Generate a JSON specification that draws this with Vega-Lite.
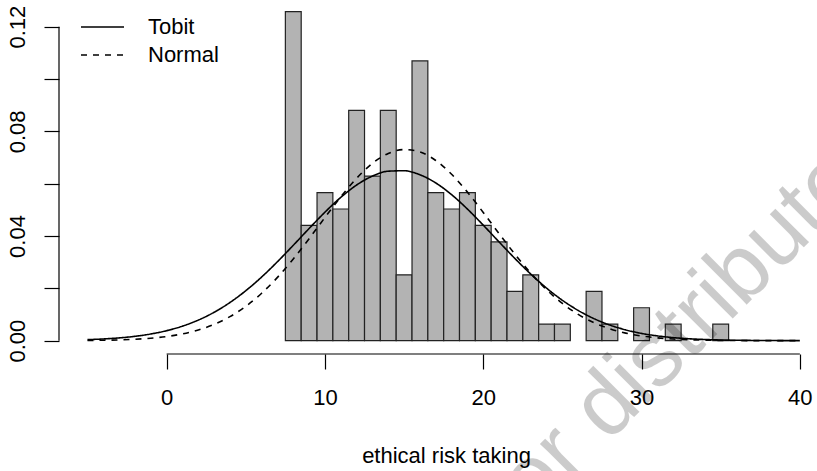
{
  "$schema": "https://vega.github.io/schema/vega-lite/v6.json",
  "width": 757,
  "height": 354,
  "autosize": {"type": "none"},
  "padding": {"left": 59, "top": 0, "right": 1, "bottom": 117},
  "background": "white",
  "config": {
    "view": {"stroke": null},
    "font": "Liberation Sans",
    "axis": {"labelFont": "Liberation Sans", "titleFont": "Liberation Sans", "labelColor": "black", "titleColor": "black", "tickColor": "black", "grid": false, "domain": false, "tickWidth": 1.2, "tickSize": 15}
  },
  "datasets": {
    "bins": [
      {"lo": 7.5, "hi": 8.5, "density": 0.12579},
      {"lo": 8.5, "hi": 9.5, "density": 0.04403},
      {"lo": 9.5, "hi": 10.5, "density": 0.05660},
      {"lo": 10.5, "hi": 11.5, "density": 0.05031},
      {"lo": 11.5, "hi": 12.5, "density": 0.08805},
      {"lo": 12.5, "hi": 13.5, "density": 0.06289},
      {"lo": 13.5, "hi": 14.5, "density": 0.08805},
      {"lo": 14.5, "hi": 15.5, "density": 0.02516},
      {"lo": 15.5, "hi": 16.5, "density": 0.10692},
      {"lo": 16.5, "hi": 17.5, "density": 0.05660},
      {"lo": 17.5, "hi": 18.5, "density": 0.05031},
      {"lo": 18.5, "hi": 19.5, "density": 0.05660},
      {"lo": 19.5, "hi": 20.5, "density": 0.04403},
      {"lo": 20.5, "hi": 21.5, "density": 0.03774},
      {"lo": 21.5, "hi": 22.5, "density": 0.01887},
      {"lo": 22.5, "hi": 23.5, "density": 0.02516},
      {"lo": 23.5, "hi": 24.5, "density": 0.00629},
      {"lo": 24.5, "hi": 25.5, "density": 0.00629},
      {"lo": 26.5, "hi": 27.5, "density": 0.01887},
      {"lo": 27.5, "hi": 28.5, "density": 0.00629},
      {"lo": 29.5, "hi": 30.5, "density": 0.01258},
      {"lo": 31.5, "hi": 32.5, "density": 0.00629},
      {"lo": 34.5, "hi": 35.5, "density": 0.00629}
    ],
    "curves": [
      {"model": "Tobit", "x": -5, "density": 0.000392},
      {"model": "Tobit", "x": -4, "density": 0.000651},
      {"model": "Tobit", "x": -3, "density": 0.001055},
      {"model": "Tobit", "x": -2, "density": 0.001663},
      {"model": "Tobit", "x": -1, "density": 0.002554},
      {"model": "Tobit", "x": 0, "density": 0.003814},
      {"model": "Tobit", "x": 1, "density": 0.005553},
      {"model": "Tobit", "x": 2, "density": 0.007868},
      {"model": "Tobit", "x": 3, "density": 0.010855},
      {"model": "Tobit", "x": 4, "density": 0.01459},
      {"model": "Tobit", "x": 5, "density": 0.01909},
      {"model": "Tobit", "x": 6, "density": 0.02432},
      {"model": "Tobit", "x": 7, "density": 0.03018},
      {"model": "Tobit", "x": 8, "density": 0.03645},
      {"model": "Tobit", "x": 9, "density": 0.04287},
      {"model": "Tobit", "x": 10, "density": 0.04911},
      {"model": "Tobit", "x": 11, "density": 0.05477},
      {"model": "Tobit", "x": 12, "density": 0.05948},
      {"model": "Tobit", "x": 13, "density": 0.06290},
      {"model": "Tobit", "x": 14, "density": 0.06477},
      {"model": "Tobit", "x": 15, "density": 0.06494},
      {"model": "Tobit", "x": 16, "density": 0.06341},
      {"model": "Tobit", "x": 17, "density": 0.06028},
      {"model": "Tobit", "x": 18, "density": 0.05580},
      {"model": "Tobit", "x": 19, "density": 0.05030},
      {"model": "Tobit", "x": 20, "density": 0.04415},
      {"model": "Tobit", "x": 21, "density": 0.03773},
      {"model": "Tobit", "x": 22, "density": 0.03141},
      {"model": "Tobit", "x": 23, "density": 0.02545},
      {"model": "Tobit", "x": 24, "density": 0.02008},
      {"model": "Tobit", "x": 25, "density": 0.01543},
      {"model": "Tobit", "x": 26, "density": 0.01155},
      {"model": "Tobit", "x": 27, "density": 0.00841},
      {"model": "Tobit", "x": 28, "density": 0.005966},
      {"model": "Tobit", "x": 29, "density": 0.004122},
      {"model": "Tobit", "x": 30, "density": 0.002773},
      {"model": "Tobit", "x": 31, "density": 0.001816},
      {"model": "Tobit", "x": 32, "density": 0.001158},
      {"model": "Tobit", "x": 33, "density": 0.000720},
      {"model": "Tobit", "x": 34, "density": 0.000435},
      {"model": "Tobit", "x": 35, "density": 0.000256},
      {"model": "Tobit", "x": 36, "density": 0.000147},
      {"model": "Tobit", "x": 37, "density": 0.000082},
      {"model": "Tobit", "x": 38, "density": 0.0000446},
      {"model": "Tobit", "x": 39, "density": 0.0000236},
      {"model": "Tobit", "x": 40, "density": 0.0000122},
      {"model": "Normal", "x": -5, "density": 0.0000821},
      {"model": "Normal", "x": -4, "density": 0.000159},
      {"model": "Normal", "x": -3, "density": 0.000297},
      {"model": "Normal", "x": -2, "density": 0.000536},
      {"model": "Normal", "x": -1, "density": 0.000936},
      {"model": "Normal", "x": 0, "density": 0.001580},
      {"model": "Normal", "x": 1, "density": 0.002579},
      {"model": "Normal", "x": 2, "density": 0.004072},
      {"model": "Normal", "x": 3, "density": 0.006218},
      {"model": "Normal", "x": 4, "density": 0.009185},
      {"model": "Normal", "x": 5, "density": 0.01312},
      {"model": "Normal", "x": 6, "density": 0.01811},
      {"model": "Normal", "x": 7, "density": 0.02418},
      {"model": "Normal", "x": 8, "density": 0.03122},
      {"model": "Normal", "x": 9, "density": 0.03899},
      {"model": "Normal", "x": 10, "density": 0.04708},
      {"model": "Normal", "x": 11, "density": 0.05496},
      {"model": "Normal", "x": 12, "density": 0.06206},
      {"model": "Normal", "x": 13, "density": 0.06777},
      {"model": "Normal", "x": 14, "density": 0.07155},
      {"model": "Normal", "x": 15, "density": 0.07305},
      {"model": "Normal", "x": 16, "density": 0.07213},
      {"model": "Normal", "x": 17, "density": 0.06886},
      {"model": "Normal", "x": 18, "density": 0.06358},
      {"model": "Normal", "x": 19, "density": 0.05677},
      {"model": "Normal", "x": 20, "density": 0.04901},
      {"model": "Normal", "x": 21, "density": 0.04091},
      {"model": "Normal", "x": 22, "density": 0.03304},
      {"model": "Normal", "x": 23, "density": 0.02579},
      {"model": "Normal", "x": 24, "density": 0.01947},
      {"model": "Normal", "x": 25, "density": 0.01421},
      {"model": "Normal", "x": 26, "density": 0.01003},
      {"model": "Normal", "x": 27, "density": 0.006849},
      {"model": "Normal", "x": 28, "density": 0.004522},
      {"model": "Normal", "x": 29, "density": 0.002888},
      {"model": "Normal", "x": 30, "density": 0.001782},
      {"model": "Normal", "x": 31, "density": 0.001063},
      {"model": "Normal", "x": 32, "density": 0.000614},
      {"model": "Normal", "x": 33, "density": 0.000343},
      {"model": "Normal", "x": 34, "density": 0.000185},
      {"model": "Normal", "x": 35, "density": 0.0000967},
      {"model": "Normal", "x": 36, "density": 0.0000488},
      {"model": "Normal", "x": 37, "density": 0.0000238},
      {"model": "Normal", "x": 38, "density": 0.0000113},
      {"model": "Normal", "x": 39, "density": 0.0000051},
      {"model": "Normal", "x": 40, "density": 0.0000023}
    ],
    "axislines": [
      {"axis": "y", "x0": -6.8, "x1": -6.8, "y0": 0, "y1": 0.12},
      {"axis": "x", "x0": 0, "x1": 40, "y0": -0.0051, "y1": -0.0051}
    ]
  },
  "layer": [
    {
      "data": {"name": "bins"},
      "mark": {"type": "rect", "fill": "#b3b3b3", "stroke": "#222222", "strokeWidth": 1.2},
      "encoding": {
        "x": {"field": "lo", "type": "quantitative",
              "scale": {"domain": [-6.8, 41.02], "nice": false, "zero": false},
              "axis": {"values": [0, 10, 20, 30, 40], "title": "ethical risk taking", "labelFontSize": 22, "labelPadding": 18, "titleFontSize": 22, "titleFontWeight": "normal", "titleBaseline": "alphabetic", "titleX": 387, "titleY": 108, "titleAnchor": null, "titleAlign": "center"}},
        "x2": {"field": "hi"},
        "y": {"field": "density", "type": "quantitative",
              "scale": {"domain": [-0.0051, 0.1302], "nice": false, "zero": false},
              "axis": {"values": [0, 0.02, 0.04, 0.06, 0.08, 0.1, 0.12], "format": ".2f", "labelExpr": "(round(datum.value*100) % 4 == 0) ? datum.label : ''", "title": null, "labelFontSize": 22, "labelAngle": -90, "labelAlign": "center", "labelBaseline": "alphabetic", "labelPadding": 20}},
        "y2": {"datum": 0}
      }
    },
    {
      "data": {"name": "curves"},
      "mark": {"type": "line", "color": "black", "strokeWidth": 1.6, "interpolate": "monotone"},
      "encoding": {
        "x": {"field": "x", "type": "quantitative"},
        "y": {"field": "density", "type": "quantitative"},
        "strokeDash": {"field": "model", "type": "nominal",
          "scale": {"domain": ["Tobit", "Normal"], "range": [[1, 0], [6, 6]]},
          "legend": {"title": null, "orient": "none", "legendX": 21, "legendY": 16, "padding": 0, "symbolType": "stroke", "symbolSize": 1849, "symbolStrokeColor": "black", "symbolStrokeWidth": 1.6, "labelFontSize": 22, "labelFont": "Liberation Sans", "labelColor": "black", "labelOffset": 23, "clipHeight": 22, "rowPadding": 6}}
      }
    },
    {
      "data": {"name": "axislines"},
      "mark": {"type": "rule", "color": "black", "strokeWidth": 1.2},
      "encoding": {
        "x": {"field": "x0", "type": "quantitative"},
        "x2": {"field": "x1"},
        "y": {"field": "y0", "type": "quantitative"},
        "y2": {"field": "y1"}
      }
    },
    {
      "data": {"values": [{"watermark": "or distribute"}]},
      "mark": {"type": "text", "font": "Liberation Sans", "fontSize": 90, "angle": -45, "align": "left", "baseline": "alphabetic", "color": "black", "opacity": 0.2},
      "encoding": {
        "text": {"field": "watermark"},
        "x": {"datum": 23.2},
        "y": {"datum": -0.0675}
      }
    }
  ]
}
